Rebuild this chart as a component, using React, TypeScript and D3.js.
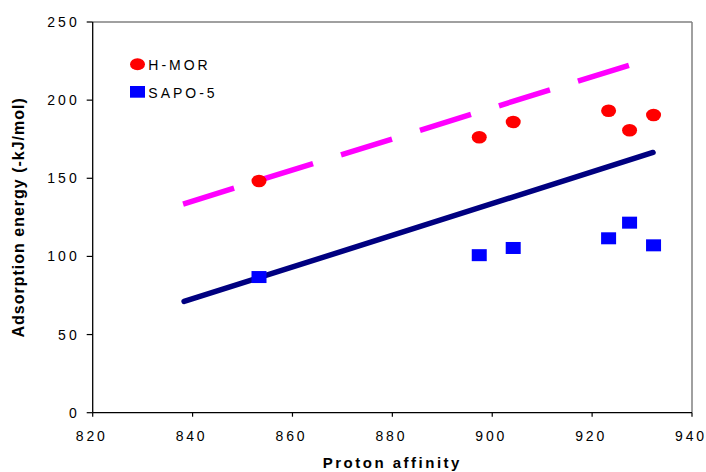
import React from "react";
import * as d3 from "d3";

const protonAffinity = [853.3, 897.4, 904.2, 923.3, 927.5, 932.3];
const hmorEnergy = [148.3, 176.3, 186.0, 193.2, 180.7, 190.5];
const sapoEnergy = [86.8, 100.8, 105.4, 111.6, 121.6, 107.1];

const dashedLineX = [838.1, 927.4];
const dashedLineY = [133.5, 222.3];
const solidLineX = [838.3, 932.2];
const solidLineY = [71.2, 166.5];

const xTicks = [820, 840, 860, 880, 900, 920, 940];
const yTicks = [0, 50, 100, 150, 200, 250];

const W = 706;
const H = 472;
const L = 92.7, R = 692, T = 22, B = 412.7;

export default function App() {
  const x = d3.scaleLinear().domain([820, 940]).range([L, R]);
  const y = d3.scaleLinear().domain([0, 250]).range([B, T]);
  const line = d3
    .line<[number, number]>()
    .x((d) => x(d[0]))
    .y((d) => y(d[1]));
  const dashed = dashedLineX.map((v, i) => [v, dashedLineY[i]] as [number, number]);
  const solid = solidLineX.map((v, i) => [v, solidLineY[i]] as [number, number]);
  const font = "Arial, 'Liberation Sans', sans-serif";

  return (
    <svg
      width={W}
      height={H}
      style={{ position: "absolute", left: 0, top: 0, background: "#fff" }}
      fontFamily={font}
    >
      <rect x={0} y={0} width={W} height={H} fill="#fff" />
      {/* frame */}
      <line x1={L} y1={T} x2={R} y2={T} stroke="#808080" strokeWidth={1.5} />
      <line x1={R} y1={T} x2={R} y2={B} stroke="#808080" strokeWidth={1.5} />
      <line x1={L} y1={T} x2={L} y2={B} stroke="#000" strokeWidth={1.3} />
      <line x1={L} y1={B} x2={R} y2={B} stroke="#000" strokeWidth={1.3} />
      {yTicks.map((t) => (
        <g key={"y" + t}>
          <line x1={L - 6} x2={L} y1={y(t)} y2={y(t)} stroke="#000" strokeWidth={1.2} />
          <text
            x={L - 13}
            y={y(t) + 5}
            textAnchor="end"
            fontSize={14}
            letterSpacing={3}
            fill="#000"
          >
            {t}
          </text>
        </g>
      ))}
      {xTicks.map((t) => (
        <g key={"x" + t}>
          <line x1={x(t)} x2={x(t)} y1={B} y2={B + 4} stroke="#000" strokeWidth={1.2} />
          <text
            x={x(t) - 1}
            y={B + 28}
            textAnchor="middle"
            fontSize={14}
            letterSpacing={2.8}
            fill="#000"
          >
            {t}
          </text>
        </g>
      ))}
      <text
        x={(L + R) / 2}
        y={468}
        textAnchor="middle"
        fontSize={15}
        fontWeight="bold"
        letterSpacing={2.5}
      >
        Proton affinity
      </text>
      <text
        transform={`translate(24, ${(T + B) / 2}) rotate(-90)`}
        textAnchor="middle"
        fontSize={16}
        fontWeight="bold"
        letterSpacing={1}
      >
        Adsorption energy (-kJ/mol)
      </text>

      {/* lines */}
      <path
        d={line(dashed) || ""}
        fill="none"
        stroke="#FF00FF"
        strokeWidth={5.5}
        strokeDasharray="53.4 29.3"
      />
      <path
        d={line(solid) || ""}
        fill="none"
        stroke="#000080"
        strokeWidth={5.5}
        strokeLinecap="round"
      />

      {/* points */}
      {protonAffinity.map((p, i) => (
        <ellipse
          key={"h" + i}
          cx={x(p)}
          cy={y(hmorEnergy[i])}
          rx={7.5}
          ry={6.3}
          fill="#FF0000"
        />
      ))}
      {protonAffinity.map((p, i) => (
        <rect
          key={"s" + i}
          x={x(p) - 7.5}
          y={y(sapoEnergy[i]) - 6}
          width={15}
          height={12}
          fill="#0000FF"
        />
      ))}

      {/* legend */}
      <ellipse cx={137.5} cy={64.3} rx={7.5} ry={6} fill="#FF0000" />
      <text x={148.3} y={69.5} fontSize={14} letterSpacing={3} fill="#000">
        H-MOR
      </text>
      <rect x={130} y={86} width={15} height={11.7} fill="#0000FF" />
      <text x={148.3} y={97.7} fontSize={14} letterSpacing={3} fill="#000">
        SAPO-5
      </text>
    </svg>
  );
}
